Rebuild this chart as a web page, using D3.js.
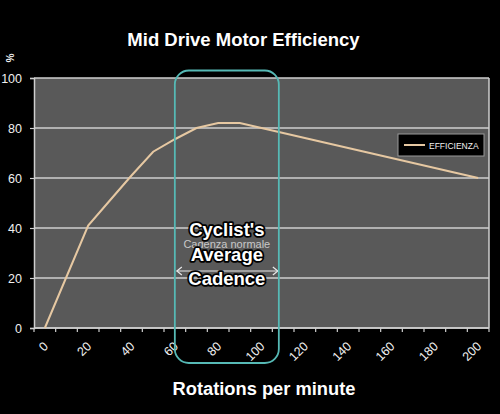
<!DOCTYPE html>
<html>
<head>
<meta charset="utf-8">
<script src="https://cdn.jsdelivr.net/npm/d3@7"></script>
<style>
  html, body { margin: 0; padding: 0; background: #000; }
  svg { display: block; }
  text { font-family: "Liberation Sans", Arial, sans-serif; }
</style>
</head>
<body>
<svg id="chart" width="500" height="414"></svg>
<script>
// ---- data ----
const categories = [0, 10, 20, 30, 40, 50, 60, 70, 80, 90, 100, 110, 120, 130, 140, 150, 160, 170, 180, 190, 200];
const efficiency = [0, 20.5, 41, 51, 61, 70.5, 75.5, 80, 82, 82, 80, 78, 76, 74, 72, 70, 68, 66, 64, 62, 60];
const xTickLabels = [0, 20, 40, 60, 80, 100, 120, 140, 160, 180, 200];
const yTickLabels = [0, 20, 40, 60, 80, 100];
const seriesName = "EFFICIENZA";
const cadenceRange = [60, 108];      // rpm span of the highlighted cadence box
const cadenceBoxY = [-14, 103];      // value span of the highlighted box
const cadenceArrowY = 22.8;
const cadenceLabel = ["Cyclist's", "Average", "Cadence"];
const cadenceNote = "Cadenza normale";
const title = "Mid Drive Motor Efficiency";
const xTitle = "Rotations per minute";
const yUnit = "%";

// ---- layout ----
const svg = d3.select("#chart");
const plot = { left: 34, right: 489, top: 78, bottom: 328 };

const x = d3.scalePoint().domain(categories).range([plot.left, plot.right]).padding(0.5);
const step = x.step();
const xLin = d3.scaleLinear().domain([0, 200]).range([x(0), x(200)]);
const y = d3.scaleLinear().domain([0, 100]).range([plot.bottom, plot.top]);

const gridColor = "#cfcfcf";

// plot background
svg.append("rect")
  .attr("x", plot.left).attr("y", plot.top)
  .attr("width", plot.right - plot.left).attr("height", plot.bottom - plot.top)
  .attr("fill", "#595959");

// gridlines
svg.append("g").selectAll("line").data(yTickLabels).join("line")
  .attr("x1", plot.left).attr("x2", plot.right)
  .attr("y1", d => y(d)).attr("y2", d => y(d))
  .attr("stroke", gridColor).attr("stroke-width", 1.5);

// right border
svg.append("line")
  .attr("x1", plot.right).attr("x2", plot.right)
  .attr("y1", plot.top).attr("y2", plot.bottom)
  .attr("stroke", gridColor).attr("stroke-width", 1.5);

// y axis
const yAxis = d3.axisLeft(y).tickValues(yTickLabels).tickSize(4).tickPadding(8);
const gy = svg.append("g").attr("transform", `translate(${plot.left},0)`).call(yAxis);
gy.select(".domain").attr("stroke", gridColor).attr("stroke-width", 1.5);
gy.selectAll(".tick line").attr("stroke", gridColor).attr("stroke-width", 1.2);
gy.selectAll(".tick text").attr("fill", "#f0f0f0").attr("font-size", 12.5)
  .attr("font-family", "Liberation Sans, Arial, sans-serif");

// x axis: ticks at category boundaries
const boundaries = categories.map(c => x(c) - step / 2).concat([x(categories[categories.length - 1]) + step / 2]);
svg.append("line")
  .attr("x1", plot.left).attr("x2", plot.right)
  .attr("y1", plot.bottom).attr("y2", plot.bottom)
  .attr("stroke", gridColor).attr("stroke-width", 1.5);
svg.append("g").selectAll("line").data(boundaries).join("line")
  .attr("x1", d => d).attr("x2", d => d)
  .attr("y1", plot.bottom).attr("y2", plot.bottom + 4)
  .attr("stroke", gridColor).attr("stroke-width", 1.2);

svg.append("g").selectAll("text").data(xTickLabels).join("text")
  .attr("transform", d => `translate(${x(d) + 4},${plot.bottom + 19}) rotate(-45)`)
  .attr("text-anchor", "end")
  .attr("fill", "#f0f0f0").attr("font-size", 12.5)
  .text(d => d);

// line series
const line = d3.line().x((d, i) => x(categories[i])).y(d => y(d));
svg.append("path")
  .datum(efficiency)
  .attr("d", line)
  .attr("fill", "none")
  .attr("stroke", "#e6c8a2")
  .attr("stroke-width", 2);

// legend
const lg = svg.append("g").attr("transform", "translate(398,134)");
lg.append("rect").attr("width", 86).attr("height", 22)
  .attr("fill", "#000").attr("stroke", "#9a9a9a").attr("stroke-width", 1);
lg.append("line").attr("x1", 6).attr("x2", 27).attr("y1", 11).attr("y2", 11)
  .attr("stroke", "#e6c8a2").attr("stroke-width", 2);
lg.append("text").attr("x", 31).attr("y", 14.5)
  .attr("fill", "#f0f0f0").attr("font-size", 8.5).text(seriesName);

// faint underlying note
svg.append("text")
  .attr("x", xLin(84)).attr("y", y(32))
  .attr("text-anchor", "middle")
  .attr("fill", "#c8c8c8").attr("font-size", 11)
  .text(cadenceNote);

// double arrow
const ax1 = xLin(cadenceRange[0]) + 2, ax2 = xLin(cadenceRange[1]) - 1, ay = y(cadenceArrowY);
svg.append("line").attr("x1", ax1).attr("x2", ax2).attr("y1", ay).attr("y2", ay)
  .attr("stroke", "#e8e8e8").attr("stroke-width", 1.2);
svg.append("path")
  .attr("d", `M${ax1 + 5},${ay - 4} L${ax1},${ay} L${ax1 + 5},${ay + 4} M${ax2 - 5},${ay - 4} L${ax2},${ay} L${ax2 - 5},${ay + 4}`)
  .attr("fill", "none").attr("stroke", "#e8e8e8").attr("stroke-width", 1.2);

// cadence box
const bx = xLin(cadenceRange[0]), bw = xLin(cadenceRange[1]) - bx;
const by = y(cadenceBoxY[1]), bh = y(cadenceBoxY[0]) - by;
svg.append("rect")
  .attr("x", bx).attr("y", by).attr("width", bw).attr("height", bh)
  .attr("rx", 14).attr("ry", 14)
  .attr("fill", "none").attr("stroke", "#56b9b5").attr("stroke-width", 1.8);

// overlay label
svg.append("g").selectAll("text").data(cadenceLabel).join("text")
  .attr("x", xLin(84)).attr("y", (d, i) => 236 + i * 24.5)
  .attr("text-anchor", "middle")
  .attr("font-size", 18.5).attr("font-weight", "bold")
  .attr("fill", "#fff").attr("stroke", "#000").attr("stroke-width", 3.5)
  .attr("stroke-linejoin", "round").attr("paint-order", "stroke")
  .text(d => d);

// title
svg.append("text")
  .attr("x", 243.5).attr("y", 46)
  .attr("text-anchor", "middle")
  .attr("fill", "#fff").attr("font-size", 18.5).attr("font-weight", "bold")
  .text(title);

// x title
svg.append("text")
  .attr("x", 264).attr("y", 395)
  .attr("text-anchor", "middle")
  .attr("fill", "#fff").attr("font-size", 18.3).attr("font-weight", "bold")
  .text(xTitle);

// y unit
svg.append("text")
  .attr("transform", "translate(9,58) rotate(90)")
  .attr("text-anchor", "middle").attr("dominant-baseline", "middle")
  .attr("fill", "#f0f0f0").attr("font-size", 10).attr("font-weight", "bold")
  .text(yUnit);
</script>
</body>
</html>
